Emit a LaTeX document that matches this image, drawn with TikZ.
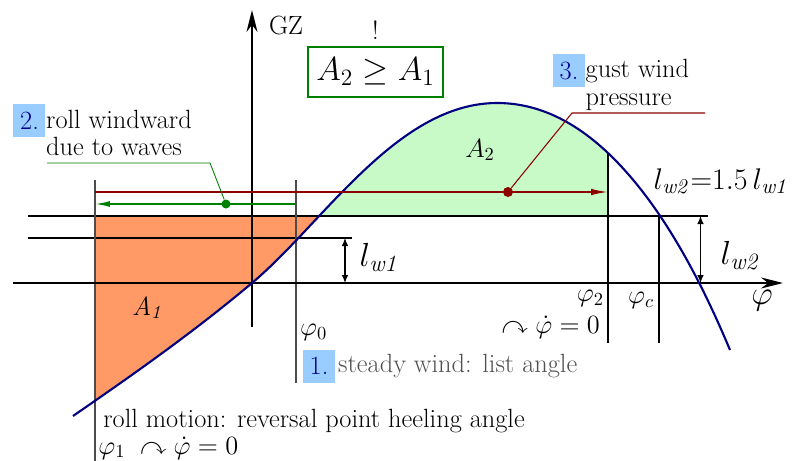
\documentclass[tikz,border=0pt]{standalone}
\usepackage{fix-cm}
\usepackage{amsmath,amssymb}
\usetikzlibrary{arrows.meta,positioning}
\definecolor{navy}{RGB}{0,0,128}
\definecolor{salmonfill}{RGB}{255,153,102}
\definecolor{mintfill}{RGB}{200,250,200}
\definecolor{darkred}{RGB}{140,0,0}
\definecolor{leafgreen}{RGB}{0,128,0}
\definecolor{hilite}{RGB}{153,204,255}
\definecolor{numblue}{RGB}{0,0,140}
\definecolor{listgray}{RGB}{80,80,80}
\def\gzcurve{(-3.58,-2.66) .. controls (-2.39,-1.84) and (-1.19,-1.0) .. (0,0)
  .. controls (0.63,0.53) and (1.27,1.29) .. (1.9,1.92)
  .. controls (2.7,2.72) and (3.7,3.6) .. (4.9,3.6)
  .. controls (5.64,3.6) and (6.38,3.3) .. (7.12,2.6)
  .. controls (7.93,1.83) and (8.75,0.6) .. (9.56,-1.34)}

\begin{document}
\begin{tikzpicture}[font=\fontsize{15}{15.5}\selectfont,
  thinline/.style={line width=0.6pt},
  axis/.style={line width=1.2pt,-{Stealth[length=4.4mm,width=2.2mm]}},
  dimarrow/.style={line width=0.6pt,{Latex[length=1.6mm,width=1.3mm]}-{Latex[length=1.6mm,width=1.3mm]}},
  numbox/.style={fill=hilite,text=numblue,inner sep=0pt,minimum width=0.64cm,minimum height=0.66cm},
  eqbox/.style={draw=leafgreen,line width=1.6pt,minimum width=2.7cm,minimum height=1cm,font=\fontsize{19}{22}\selectfont},
  biglabel/.style={font=\fontsize{19}{22}\selectfont},
  blob/.style={circle,fill,inner sep=0pt,minimum size=#1}]
\useasboundingbox (-5.04,-3.54) rectangle (10.8,5.66);

% areas A1 and A2
\begin{scope}
\clip (-3.14,-3.6) rectangle (3,1.34);
\fill[salmonfill] \gzcurve -- (9.56,5) -- (-3.58,5) -- cycle;
\end{scope}
\begin{scope}
\clip (0,1.34) rectangle (7.12,5);
\fill[mintfill] \gzcurve -- (9.56,-3) -- (-3.58,-3) -- cycle;
\end{scope}

% heeling arm levels and angles
\draw[thinline] (-4.48,1.34) -- (9.12,1.34);
\draw[thinline] (-4.48,0.9) -- (2.0,0.9);
\draw[thinline,black!70] (-3.14,2.06) -- (-3.14,-3.6);
\draw[thinline,black!70] (0.88,2.06) -- (0.88,-2.0);
\draw[thinline] (7.12,2.6) -- (7.12,-1.2);
\draw[thinline] (8.14,1.34) -- (8.14,-1.2);
\draw[dimarrow] (1.86,0.9) -- (1.86,0);
\draw[dimarrow] (8.97,1.34) -- (8.97,0);

\draw[axis] (-4.78,0) -- (10.62,0);
\draw[axis] (0,-0.88) -- (0,5.46);
\node (gzlabel) at (0.68,5.16) {GZ};
\node[biglabel] (philabel) at (10.2,-0.36) {$\varphi$};

\draw[navy,line width=1.2pt] \gzcurve;

% roll motions
\draw[darkred,line width=0.9pt,-{Latex[length=3.4mm,width=1.3mm]}] (-3.14,1.82) -- (7.12,1.82);
\draw[leafgreen,line width=0.9pt,-{Latex[length=3mm,width=1.2mm]}] (0.88,1.58) -- (-3.14,1.58);
\node[blob=0.2cm,darkred] (gustdot) at (5.12,1.82) {};
\node[blob=0.18cm,leafgreen] (wavedot) at (-0.52,1.58) {};

\node[numbox] (num2) at (-4.45,3.25) {2.};
\node[below right=0.12cm and 0cm of num2.north east,inner sep=0pt,align=left] (wavetext) {roll windward\\due to waves};
\coordinate (waveknee) at (-0.84,2.4);
\coordinate (waveend) at (-4.1,2.4);
\draw[leafgreen,line width=0.5pt] (wavedot) -- (waveknee) -- (waveend);

\node[numbox] (num3) at (6.34,4.25) {3.};
\node[below right=0.11cm and 0cm of num3.north east,inner sep=0pt,align=left] (gusttext) {gust wind\\pressure};
\coordinate (gustknee) at (6.4,3.4);
\coordinate (gustend) at (9.06,3.4);
\draw[darkred,line width=0.6pt] (gustdot) -- (gustknee) -- (gustend);

\node[numbox] (num1) at (1.34,-1.66) {1.};
\node[right=0.05cm of num1,text=listgray,inner sep=0pt] (steadytext) {steady wind: list angle};

\node[eqbox] (crit) at (2.47,4.22) {$A_2 \geq A_1$};
\node[above=0cm of crit] (bang) {!};

% labels
\node (aone) at (-2.08,-0.5) {$\mathit{A_{1}}$};
\node (atwo) at (4.56,2.66) {$A_2$};
\node[anchor=west,inner sep=1pt] (phizero) at (0.92,-0.98) {$\varphi_0$};
\node[anchor=east,inner sep=1pt] (phitwo) at (7.08,-0.3) {$\varphi_2$};
\node (phic) at (7.78,-0.34) {$\varphi_c$};
\node[anchor=east,inner sep=1pt] (stoptwo) at (7.0,-0.88) {$\curvearrowright\dot{\varphi}=0$};
\node[anchor=base west,inner sep=0pt] (rolltext) at (-2.98,-2.88) {roll motion: reversal point heeling angle};
\node[anchor=base west,inner sep=0pt] (phione) at (-3.08,-3.42) {$\varphi_1\;\curvearrowright\dot{\varphi}=0$};
\node[biglabel] (lwone) at (2.56,0.52) {$l_{\mathit{w1}}$};
\node[biglabel] (lwtwo) at (9.78,0.55) {$l_{\mathit{w2}}$};
\node[font=\fontsize{17}{20}\selectfont,anchor=east,inner sep=0pt] (lwratio) at (10.76,2.04) {$l_{\mathit{w2}}{=}1.5\,l_{\mathit{w1}}$};
\end{tikzpicture}
\end{document}
